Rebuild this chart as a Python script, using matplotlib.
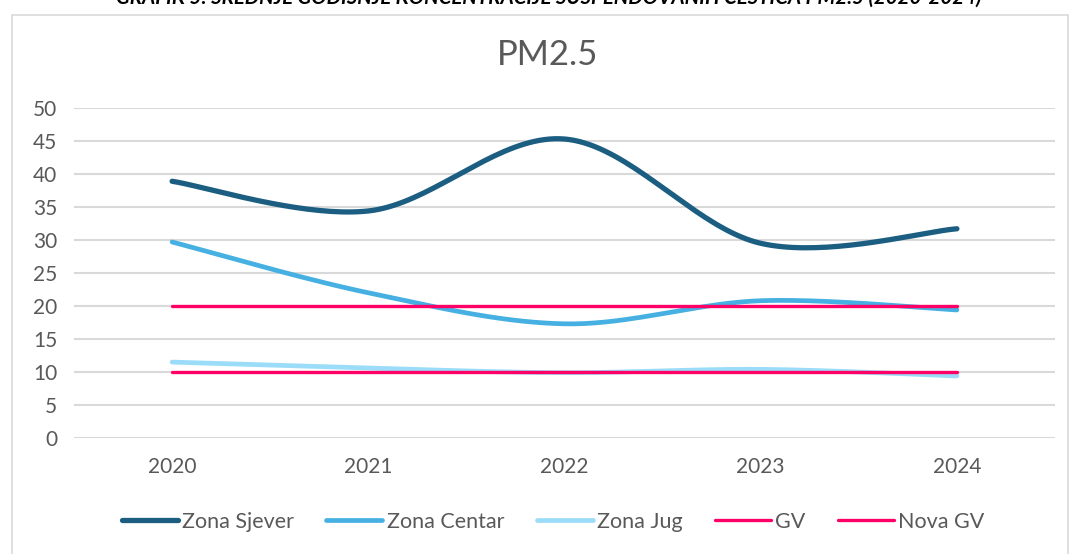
import numpy as np
import matplotlib.pyplot as plt
from matplotlib.patches import Rectangle

plt.rcParams['font.family'] = ['Lato', 'DejaVu Sans']

# data
years = ['2020', '2021', '2022', '2023', '2024']
sjever = [38.9, 34.4, 45.3, 29.5, 31.7]
centar = [29.7, 22.0, 17.3, 20.8, 19.4]
jug = [11.5, 10.6, 9.9, 10.4, 9.4]
gv = [20, 20, 20, 20, 20]
nova_gv = [10, 10, 10, 10, 10]


def smooth(x, y, n=40):
    # excel-style smoothed line (catmull-rom bezier)
    x = np.asarray(x, float)
    y = np.asarray(y, float)
    px, py = [], []
    for i in range(len(x) - 1):
        x0, y0 = (x[i - 1], y[i - 1]) if i > 0 else (x[i], y[i])
        x3, y3 = (x[i + 2], y[i + 2]) if i + 2 < len(x) else (x[i + 1], y[i + 1])
        x1, y1 = x[i], y[i]
        x2, y2 = x[i + 1], y[i + 1]
        c1x, c1y = x1 + (x2 - x0) / 6, y1 + (y2 - y0) / 6
        c2x, c2y = x2 - (x3 - x1) / 6, y2 - (y3 - y1) / 6
        t = np.linspace(0, 1, n)
        bx = (1 - t) ** 3 * x1 + 3 * (1 - t) ** 2 * t * c1x + 3 * (1 - t) * t ** 2 * c2x + t ** 3 * x2
        by = (1 - t) ** 3 * y1 + 3 * (1 - t) ** 2 * t * c1y + 3 * (1 - t) * t ** 2 * c2y + t ** 3 * y2
        px.extend(bx)
        py.extend(by)
    return np.array(px), np.array(py)


fig = plt.figure(figsize=(10.71, 5.54), dpi=100)
fig.patches.append(Rectangle((12 / 1071, -0.01), 1056 / 1071, 1 - 15 / 554 + 0.01,
                             transform=fig.transFigure, fill=False,
                             edgecolor='#d9d9d9', lw=1.2))

# figure caption, cut off at the top edge like in the source document
fig.text(549 / 1071, 1.006, 'GRAFIK 5: SREDNJE GODIŠNJE KONCENTRACIJE SUSPENDOVANIH ČESTICA PM2.5 (2020-2024)',
         ha='center', va='center', fontsize=14.7, fontweight='bold', fontstyle='italic')

ax = fig.add_axes([74 / 1071, 1 - 438 / 554, (1055 - 74) / 1071, (438 - 108) / 554])
xs = np.arange(len(years))

series = [
    ('Zona Sjever', sjever, '#1b5e82', 3.8),
    ('Zona Centar', centar, '#45b0e1', 3.4),
    ('Zona Jug', jug, '#9bdcf8', 3.4),
    ('GV', gv, '#ff0066', 2.4),
    ('Nova GV', nova_gv, '#ff0066', 2.4),
]
for name, vals, col, lw in series:
    sx, sy = smooth(xs, vals)
    ax.plot(sx, sy, color=col, lw=lw, label=name, solid_capstyle='round', zorder=3)

ax.set_xlim(-0.5, 4.5)
ax.set_ylim(0, 50)
ax.set_yticks(range(0, 51, 5))
ax.set_xticks(xs)
ax.set_xticklabels(years)
ax.grid(axis='y', color='#d9d9d9', lw=1.5, zorder=0)
ax.set_axisbelow(True)
for s in ax.spines.values():
    s.set_visible(False)
ax.tick_params(length=0, labelsize=15, colors='#595959')
ax.tick_params(axis='x', pad=14)
ax.tick_params(axis='y', pad=12)

fig.text(548 / 1071, 1 - 55 / 554, 'PM2.5', ha='center', va='center', fontsize=25, color='#595959')

leg = fig.legend(loc='center', bbox_to_anchor=(553 / 1071, 1 - 522 / 554), ncol=5, frameon=False,
                 fontsize=15.5, handlelength=2.6, handletextpad=0.2, columnspacing=1.5,
                 labelcolor='#595959')

fig.savefig('out.png', dpi=100)
